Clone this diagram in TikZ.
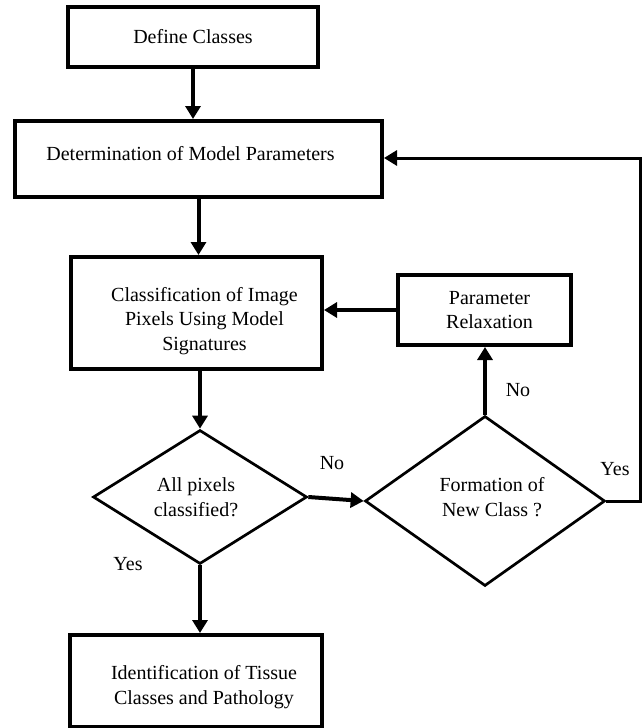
\documentclass[tikz,border=0pt]{standalone}
\usepackage{fontspec}
\setmainfont{Liberation Serif}
\usetikzlibrary{arrows.meta,shapes.geometric}
\begin{document}
\begin{tikzpicture}[x=1pt,y=-1pt,
  box/.style={draw,line width=4pt,rectangle,inner sep=0pt},
  dia/.style={draw,line width=2.7pt,diamond,inner sep=0pt,aspect=1.5},
  txt/.style={align=center,inner sep=0pt,font=\fontsize{20}{24.5}\selectfont},
  arr/.style={line width=4pt,-{Triangle[length=13pt,width=15pt]}},
  fb/.style={line width=3pt,line join=miter,-{Triangle[length=13pt,width=15pt]}}
]
\useasboundingbox (0,0) rectangle (642,728);

% boxes
\node[box,minimum width=250pt,minimum height=60pt] (define) at (193,37) {};
\node[txt] (defineT) at ([shift={(0,0)}]define.center) {Define Classes};

\node[box,minimum width=367pt,minimum height=76pt] (det) at (198.5,159) {};
\node[txt] (detT) at ([shift={(-8,-5)}]det.center) {Determination of Model Parameters};

\node[box,minimum width=251pt,minimum height=112pt] (class) at (196.5,313) {};
\node[txt] (classT) at ([shift={(8,8)}]class.center) {Classification of Image\\Pixels Using Model\\Signatures};

\node[box,minimum width=173pt,minimum height=70pt] (param) at (484.5,310) {};
\node[txt] (paramT) at ([shift={(5,0)}]param.center) {Parameter\\Relaxation};

\node[dia,minimum width=214pt,minimum height=134pt] (d1) at (200,497) {};
\node[txt] (d1T) at ([shift={(-4,0)}]d1.center) {All pixels\\classified?};

\node[dia,minimum width=240pt,minimum height=170pt] (d2) at (485,501) {};
\node[txt] (d2T) at ([shift={(7,-4)}]d2.center) {Formation of\\New Class ?};

\node[box,minimum width=252pt,minimum height=92pt] (ident) at (196,681) {};
\node[txt] (identT) at ([shift={(8,6)}]ident.center) {Identification of Tissue\\Classes and Pathology};

% connectors
\draw[arr] (define.south) -- (define.south |- det.north);
\draw[arr] (det.south) -- (det.south |- class.north);
\draw[arr] (d1.north |- class.south) -- (d1.north);
\draw[arr] (d1.east) -- (d2.west);
\draw[arr] (d1.south) -- (d1.south |- ident.north);
\draw[arr] (d2.north) -- (d2.north |- param.south);
\draw[arr] (param.west) -- (param.west -| class.east);
\coordinate (fbtop) at (640,158);
\draw[fb] (d2.east) -- (d2.east -| fbtop) -- (fbtop) -- (fbtop -| det.east);

% labels
\node[txt] (noA) at (332,463) {No};
\node[txt] (yesA) at (128,564) {Yes};
\node[txt] (noB) at (518,390) {No};
\node[txt] (yesB) at (615,469) {Yes};
\end{tikzpicture}
\end{document}
